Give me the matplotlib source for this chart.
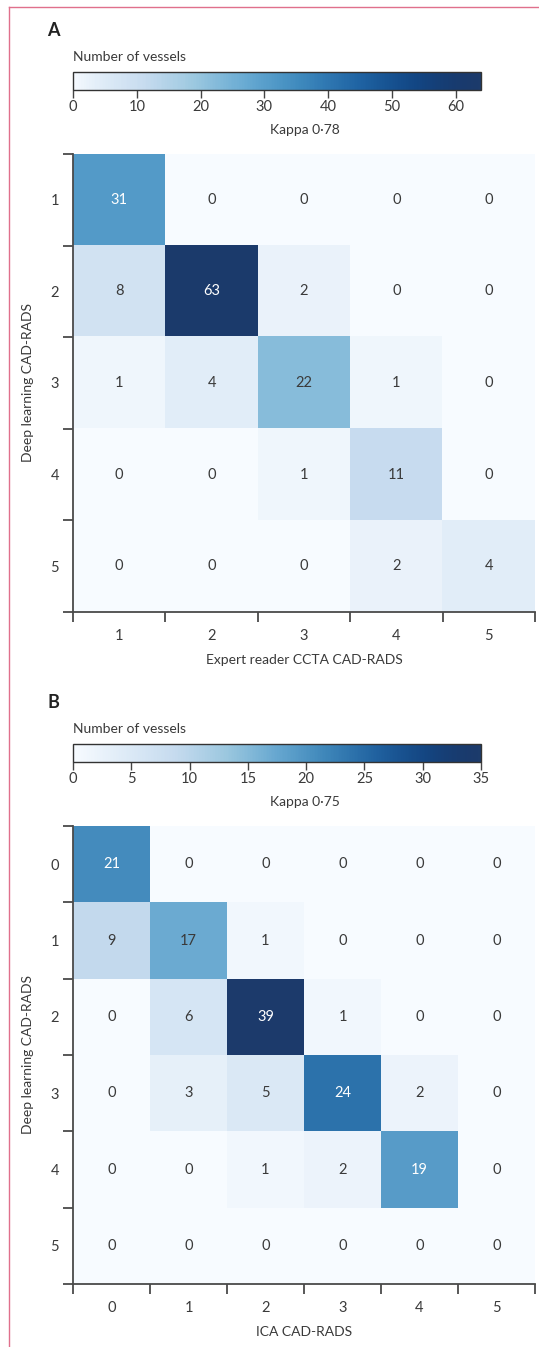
import matplotlib
matplotlib.use("Agg")
import matplotlib.pyplot as plt
import numpy as np
from matplotlib.lines import Line2D
from matplotlib.colors import ListedColormap

plt.rcParams['font.family'] = ['Lato', 'DejaVu Sans']

# panel A: deep learning vs expert reader CCTA
labels_a = ["1", "2", "3", "4", "5"]
counts_a = [[31, 0, 0, 0, 0],
            [8, 63, 2, 0, 0],
            [1, 4, 22, 1, 0],
            [0, 0, 1, 11, 0],
            [0, 0, 0, 2, 4]]
cbar_ticks_a = [0, 10, 20, 30, 40, 50, 60]
vmax_a = 64
kappa_a = "Kappa 0·78"
xlabel_a = "Expert reader CCTA CAD-RADS"

# panel B: deep learning vs ICA
labels_b = ["0", "1", "2", "3", "4", "5"]
counts_b = [[21, 0, 0, 0, 0, 0],
            [9, 17, 1, 0, 0, 0],
            [0, 6, 39, 1, 0, 0],
            [0, 3, 5, 24, 2, 0],
            [0, 0, 1, 2, 19, 0],
            [0, 0, 0, 0, 0, 0]]
cbar_ticks_b = [0, 5, 10, 15, 20, 25, 30, 35]
vmax_b = 35
kappa_b = "Kappa 0·75"
xlabel_b = "ICA CAD-RADS"

ylabel = "Deep learning CAD-RADS"


def make_cmap(gamma):
    # Blues, optionally pushed darker in the middle, with a softer navy top
    t = np.linspace(0, 1, 256)
    base = plt.cm.Blues(t ** gamma)
    mix = t[:, None] ** 4
    navy = np.array([0.11, 0.23, 0.42, 1.0])
    return ListedColormap(base * (1 - mix) + navy * mix)


W, H = 539, 1347
fig = plt.figure(figsize=(W/100, H/100), dpi=100)
txt = "#3a3a3a"
spine_c = "#4a4a4a"


def fx(px):
    return px / W


def fy(py):
    return 1 - py / H


def panel(letter, labels, counts, ticks, vmax, kappa, xlabel, top,
          white_above, gamma):
    counts = np.array(counts)
    n = len(labels)
    cmap = make_cmap(gamma)
    # colour bar
    cax = fig.add_axes([fx(73), fy(top + 62), fx(408), 18/H])
    norm = plt.Normalize(0, vmax)
    cb = fig.colorbar(plt.cm.ScalarMappable(norm=norm, cmap=cmap), cax=cax,
                      orientation="horizontal", ticks=ticks)
    cb.outline.set_edgecolor("#333333")
    cb.outline.set_linewidth(1)
    cax.tick_params(length=6, width=1, color="#444444", labelsize=10.5,
                    labelcolor=txt, pad=1)
    fig.text(fx(53), fy(top + 3), letter, fontsize=13, fontweight="bold",
             color="#222222", va="center", ha="center")
    fig.text(fx(73), fy(top + 29), "Number of vessels", fontsize=10,
             color=txt, va="center", ha="left")
    fig.text(fx(305), fy(top + 102), kappa, fontsize=10, color=txt,
             va="center", ha="center")

    # heat map
    h_top = top + 126
    h_h = 458
    ax = fig.add_axes([fx(73), fy(h_top + h_h), fx(462), h_h/H])
    ax.imshow(counts, cmap=cmap, norm=norm, aspect="auto",
              extent=[0, n, n, 0], interpolation="nearest")
    for i in range(n):
        for j in range(n):
            v = counts[i, j]
            c = "white" if v / vmax > white_above else txt
            ax.text(j + 0.5, i + 0.5, str(v), ha="center", va="center",
                    fontsize=10.5, color=c)
    ax.set_xlim(0, n)
    ax.set_ylim(n, 0)
    for s in ["top", "right"]:
        ax.spines[s].set_visible(False)
    for s in ["left", "bottom"]:
        ax.spines[s].set_color(spine_c)
        ax.spines[s].set_linewidth(1.3)
    ax.set_xticks(np.arange(n) + 0.5)
    ax.set_xticklabels(labels)
    ax.set_yticks(np.arange(n) + 0.5)
    ax.set_yticklabels(labels)
    ax.set_xticks(np.arange(n + 1), minor=True)
    ax.set_yticks(np.arange(n + 1), minor=True)
    ax.tick_params(which="major", length=0, labelsize=10.5, labelcolor=txt)
    ax.tick_params(axis="x", which="major", pad=12)
    ax.tick_params(axis="y", which="major", pad=10)
    ax.tick_params(which="minor", length=7, width=1.3, color=spine_c)
    ax.set_xlabel(xlabel, fontsize=10, color=txt, labelpad=8)
    ax.set_ylabel(ylabel, fontsize=10, color=txt, labelpad=12)


panel("A", labels_a, counts_a, cbar_ticks_a, vmax_a, kappa_a, xlabel_a, 28,
      0.45, 0.8)
panel("B", labels_b, counts_b, cbar_ticks_b, vmax_b, kappa_b, xlabel_b, 700,
      0.5, 1.0)

# thin page frame
fig.add_artist(Line2D([fx(9), 1], [fy(7), fy(7)], color="#e0708c", lw=1))
fig.add_artist(Line2D([fx(9), fx(9)], [fy(7), 0], color="#e0708c", lw=1))

fig.savefig("out.png", dpi=100)
